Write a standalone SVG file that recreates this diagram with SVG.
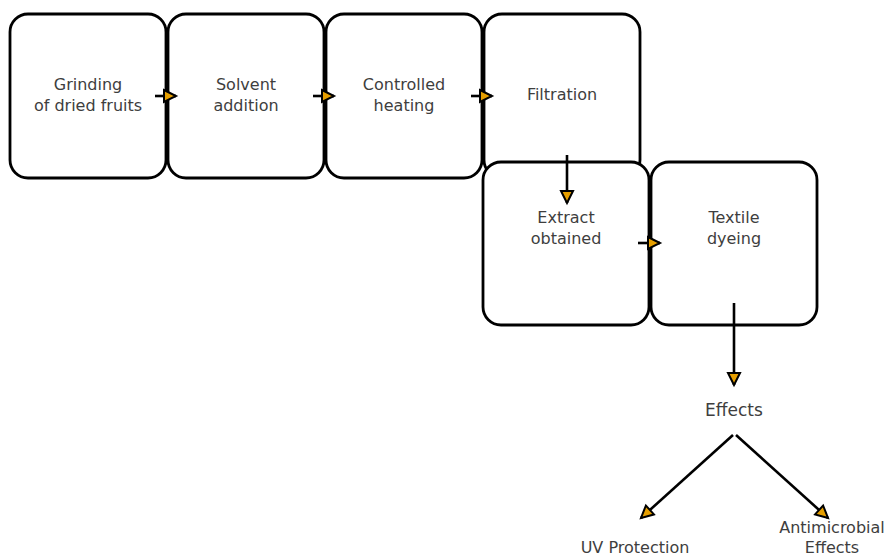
<svg xmlns="http://www.w3.org/2000/svg" width="886" height="557" viewBox="0 0 886 557">
<style>
.box{fill:#fff;stroke:#000;stroke-width:2.8}
.t{font-family:"DejaVu Sans",sans-serif;font-size:16px;fill:#3e3e3e;text-anchor:middle}
.t2{font-family:"DejaVu Sans",sans-serif;font-size:17px;fill:#3e3e3e;text-anchor:middle}
.c{stroke:#000;stroke-width:2.6;fill:none;marker-end:url(#ah)}
</style>
<defs>
<marker id="ah" markerUnits="userSpaceOnUse" markerWidth="18" markerHeight="18" viewBox="-2 -8 18 16" refX="12" refY="0" orient="auto">
<path d="M0,-6 L12,0 L0,6 z" fill="#E69F00" stroke="#000" stroke-width="2" stroke-linejoin="miter"/>
</marker>
</defs>
<rect width="886" height="557" fill="#fff"/>
<g id="n1"><rect class="box" x="10" y="14" width="156" height="164" rx="18"/><text class="t" x="88" y="90">Grinding</text><text class="t" x="88" y="111">of dried fruits</text></g>
<g id="n2"><rect class="box" x="168" y="14" width="156" height="164" rx="18"/><text class="t" x="246" y="90">Solvent</text><text class="t" x="246" y="111">addition</text></g>
<g id="n3"><rect class="box" x="326" y="14" width="156" height="164" rx="18"/><text class="t" x="404" y="90">Controlled</text><text class="t" x="404" y="111">heating</text></g>
<g id="n4"><rect class="box" x="484" y="14" width="156" height="164" rx="18"/><text class="t" x="562" y="100">Filtration</text></g>
<g id="n5"><rect class="box" x="483" y="162" width="166" height="163" rx="18"/><text class="t" x="566" y="223">Extract</text><text class="t" x="566" y="244">obtained</text></g>
<g id="n6"><rect class="box" x="651" y="162" width="166" height="163" rx="18"/><text class="t" x="734" y="223">Textile</text><text class="t" x="734" y="244">dyeing</text></g>
<g id="n7"><text class="t2" x="734" y="416">Effects</text></g>
<g id="n8"><text class="t" x="635" y="553">UV Protection</text></g>
<g id="n9"><text class="t" x="832" y="533">Antimicrobial</text><text class="t" x="832" y="553">Effects</text></g>
<g id="edges">
<line class="c" x1="155" y1="96" x2="176" y2="96"/>
<line class="c" x1="313" y1="96" x2="334" y2="96"/>
<line class="c" x1="471" y1="96" x2="492" y2="96"/>
<line class="c" x1="567" y1="155" x2="567" y2="203"/>
<line class="c" x1="638" y1="243" x2="660" y2="243"/>
<line class="c" x1="734" y1="303" x2="734" y2="385"/>
<line class="c" x1="733" y1="435" x2="641" y2="518"/>
<line class="c" x1="736" y1="435" x2="828" y2="518"/>
</g>
</svg>
